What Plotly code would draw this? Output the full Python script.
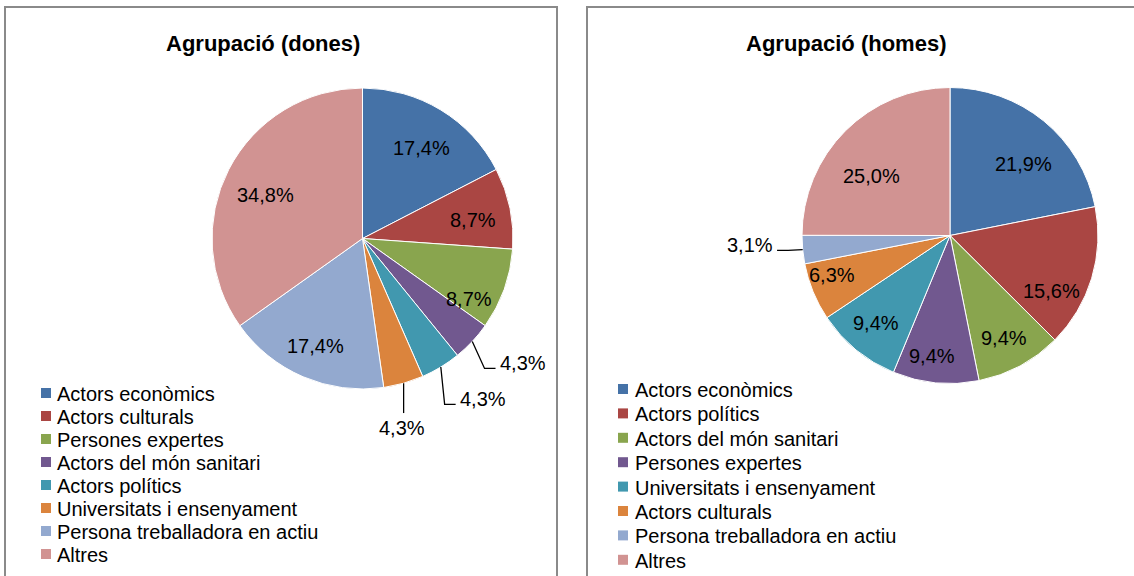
import math
import plotly.graph_objects as go

W, H = 1134, 576

# Distribution by group, women
dones_labels = [
    "Actors econòmics", "Actors culturals", "Persones expertes",
    "Actors del món sanitari", "Actors polítics", "Universitats i ensenyament",
    "Persona treballadora en actiu", "Altres",
]
dones_values = [17.4, 8.7, 8.7, 4.3, 4.3, 4.3, 17.4, 34.8]

# Distribution by group, men
homes_labels = [
    "Actors econòmics", "Actors polítics", "Actors del món sanitari",
    "Persones expertes", "Universitats i ensenyament", "Actors culturals",
    "Persona treballadora en actiu", "Altres",
]
homes_values = [21.9, 15.6, 9.4, 9.4, 9.4, 6.3, 3.1, 25.0]

palette = ["#4572A7", "#AA4643", "#89A54E", "#71588F",
           "#4198AF", "#DB843D", "#93A9CF", "#D19392"]

FONT = "Liberation Sans, Arial, sans-serif"


def fx(x):
    return x / W


def fy(y):
    return 1 - y / H


def pct(v):
    return f"{v:.1f}".replace(".", ",") + "%"


panels = [
    dict(title="Agrupació (dones)", labels=dones_labels, values=dones_values,
         box=(5, 557), cx=362.5, cy=238.5, r=150.5, title_xy=(263, 44),
         sq_x=41, txt_x=55, row0=393, row_gap=23.0,
         # fine placement of each value label, in pixels
         shift=[(0, 6), (0, 4), (0, 22), (14, -12), (16, -10), (-15, -3), (-2, 4), (3, 8)]),
    dict(title="Agrupació (homes)", labels=homes_labels, values=homes_values,
         box=(587, 1160), cx=950, cy=235.5, r=148, title_xy=(846, 44),
         sq_x=618, txt_x=633, row0=389, row_gap=24.4,
         shift=[(3, 14), (-5, 23), (1, 5), (-7, 10), (-4, 2), (-15, -3), (-4, -9), (0, 19)]),
]

fig = go.Figure()
shapes = []
annotations = []

for p in panels:
    cx, cy, r = p["cx"], p["cy"], p["r"]
    # frame around each chart
    shapes.append(dict(type="rect", xref="paper", yref="paper",
                       x0=fx(p["box"][0]), x1=fx(p["box"][1]),
                       y0=fy(7), y1=fy(600),
                       line=dict(color="#8a8a8a", width=2),
                       fillcolor="rgba(0,0,0,0)", layer="below"))

    fig.add_trace(go.Pie(
        labels=p["labels"], values=p["values"],
        marker=dict(colors=palette, line=dict(color="white", width=1)),
        sort=False, direction="clockwise", rotation=0,
        textinfo="none", textposition="none", showlegend=False,
        domain=dict(x=[fx(cx - r), fx(cx + r)], y=[fy(cy + r), fy(cy - r)]),
        hoverinfo="label+percent",
    ))

    # title
    annotations.append(dict(text="<b>" + p["title"] + "</b>", xref="paper", yref="paper",
                            x=fx(p["title_xy"][0]), y=fy(p["title_xy"][1]),
                            xanchor="center", yanchor="middle", showarrow=False,
                            font=dict(family=FONT, size=22, color="black")))

    # value labels: inside for larger slices, outside with leader line for small ones
    total = sum(p["values"])
    cum = 0.0
    for v, (sx, sy) in zip(p["values"], p["shift"]):
        theta = math.radians((cum + v / 2) / total * 360)
        cum += v
        s, c = math.sin(theta), math.cos(theta)
        if v >= 5:
            d = 0.75 * r
            lx, ly = cx + d * s + sx, cy - d * c + sy
        else:
            d = 1.33 * r
            lx, ly = cx + d * s + sx, cy - d * c + sy
            px0, py0 = cx + r * s, cy - r * c
            if abs(lx - px0) < 30:
                qx, qy = px0, ly - 15
                path = f"M{fx(px0)},{fy(py0)} L{fx(qx)},{fy(qy)}"
            else:
                side = 1 if lx > px0 else -1
                qx, qy = lx - side * 27, ly + 5
                ex = qx - side * 11
                path = (f"M{fx(px0)},{fy(py0)} L{fx(ex)},{fy(qy)} "
                        f"L{fx(qx)},{fy(qy)}")
            shapes.append(dict(type="path", xref="paper", yref="paper", path=path,
                               line=dict(color="black", width=1.3)))
        annotations.append(dict(text=pct(v), xref="paper", yref="paper",
                                x=fx(lx), y=fy(ly), xanchor="center", yanchor="middle",
                                showarrow=False,
                                font=dict(family=FONT, size=20, color="black")))

    # legend
    for i, lab in enumerate(p["labels"]):
        yc = p["row0"] + i * p["row_gap"]
        shapes.append(dict(type="rect", xref="paper", yref="paper",
                           x0=fx(p["sq_x"]), x1=fx(p["sq_x"] + 10),
                           y0=fy(yc + 5), y1=fy(yc - 5),
                           fillcolor=palette[i], line=dict(width=0)))
        annotations.append(dict(text=lab, xref="paper", yref="paper",
                                x=fx(p["txt_x"]), y=fy(yc + 1),
                                xanchor="left", yanchor="middle", showarrow=False,
                                font=dict(family=FONT, size=20, color="black")))

fig.update_layout(
    width=W, height=H,
    margin=dict(l=0, r=0, t=0, b=0),
    paper_bgcolor="white", plot_bgcolor="white",
    shapes=shapes, annotations=annotations,
    showlegend=False,
)

fig.write_html("out.html")
